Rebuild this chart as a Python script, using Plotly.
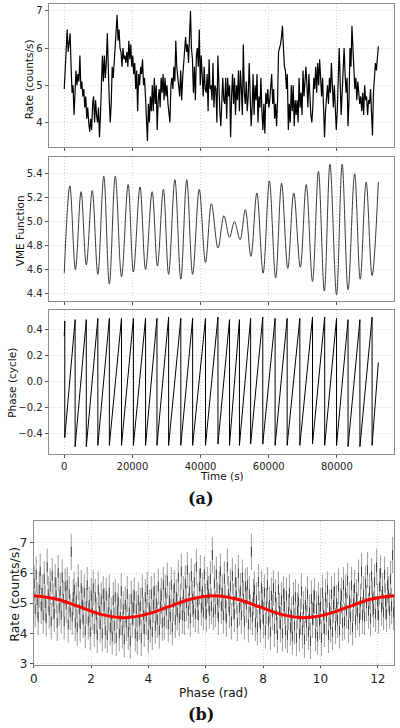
import numpy as np
import plotly.graph_objects as go

# ---------------- Data ----------------
# Panel (a) top: light curve rate (counts/s), evenly sampled over 0 .. 92160 s
lc_rate = [
 4.9, 5.5, 5.8, 6.5, 5.9, 6.3, 6.4, 5.5, 4.8, 5.0, 4.2, 4.8, 5.4, 5.0, 5.3, 5.1, 5.8, 4.9, 5.1, 4.7,
 4.9, 4.4, 4.7, 4.1, 4.4, 4.0, 3.75, 4.1, 3.8, 4.5, 4.7, 4.0, 4.6, 4.2, 4.0, 4.4, 3.6, 4.2, 5.0, 5.8,
 5.1, 5.8, 5.2, 5.6, 6.4, 5.0, 4.6, 4.0, 4.5, 5.5, 5.2, 5.6, 6.0, 6.3, 6.9, 6.2, 6.5, 6.0, 5.9, 5.5,
 6.0, 5.7, 5.8, 5.6, 5.9, 5.5, 6.2, 5.7, 6.1, 5.5, 5.8, 5.3, 5.6, 4.9, 5.4, 4.3, 5.3, 5.0, 5.5, 5.3,
 5.7, 5.0, 5.2, 4.7, 3.9, 3.5, 4.5, 4.0, 4.7, 4.3, 5.0, 4.3, 5.2, 4.5, 5.0, 3.8, 4.6, 4.9, 4.4, 5.2,
 4.8, 5.3, 4.6, 5.2, 4.7, 5.0, 4.5, 4.3, 4.0, 5.0, 5.2, 4.9, 5.5, 5.1, 6.2, 5.5, 5.2, 5.0, 4.7, 5.4,
 4.6, 5.2, 5.5, 5.8, 6.3, 5.9, 6.1, 5.6, 6.3, 7.0, 6.0, 5.7, 4.8, 5.5, 4.6, 5.8, 6.0, 5.5, 6.5, 5.0,
 5.8, 5.2, 4.7, 5.5, 4.9, 4.8, 5.3, 4.3, 5.7, 4.9, 5.0, 4.6, 5.6, 4.4, 5.0, 4.9, 4.0, 5.8, 4.8, 4.3,
 3.9, 4.9, 5.2, 4.6, 4.5, 5.2, 4.1, 5.2, 4.7, 5.0, 3.6, 4.7, 5.3, 4.5, 5.2, 4.2, 5.0, 4.6, 5.4, 4.3,
 5.4, 4.9, 4.2, 6.1, 4.8, 4.5, 5.1, 4.3, 4.7, 5.6, 4.9, 3.9, 4.4, 5.3, 4.2, 5.0, 4.6, 5.3, 4.0, 4.7,
 4.4, 5.2, 4.3, 3.8, 4.5, 3.7, 4.8, 4.5, 4.9, 4.4, 4.6, 5.0, 5.3, 4.5, 4.9, 4.1, 4.5, 3.9, 4.6, 5.9,
 6.0, 6.1, 6.3, 6.6, 6.0, 5.5, 5.4, 4.9, 5.3, 3.8, 4.5, 4.0, 5.0, 4.3, 5.0, 3.9, 4.6, 4.2, 4.6, 4.0,
 5.2, 4.4, 4.8, 4.2, 5.4, 4.7, 5.1, 5.5, 5.0, 4.4, 5.3, 4.7, 4.2, 4.0, 4.4, 5.2, 4.9, 5.5, 4.8, 5.6,
 5.0, 5.7, 5.1, 4.7, 5.2, 4.3, 3.6, 4.3, 4.6, 5.0, 4.5, 5.2, 4.8, 5.6, 5.0, 4.4, 5.0, 4.3, 3.8, 4.3,
 5.0, 6.0, 5.1, 4.2, 4.8, 5.5, 6.0, 5.3, 4.8, 5.2, 3.9, 4.6, 6.0, 5.5, 6.6, 6.0, 5.4, 4.9, 5.2, 4.6,
 5.1, 4.8, 4.5, 4.7, 4.3, 4.8, 4.2, 5.0, 4.6, 4.7, 4.2, 4.6, 4.5, 4.9, 4.0, 3.65, 4.8, 5.1, 5.6, 5.4,
 5.8, 6.05,
]
lc_t_end = 92160.0  # s

# Panel (a) middle: VME function extrema (time in s, value)
vme_t = [0, 1640, 3280, 4930, 6470, 8210, 9850, 11590, 13230, 14970, 16810, 18740, 20290, 22220,
         23860, 25790, 27340, 29080, 30620, 32460, 34200, 35940, 37670, 39610, 41440, 43180, 45110,
         46850, 48490, 49940, 51580, 53130, 54770, 56510, 58350, 60180, 62020, 63760, 65590, 67330,
         69260, 71000, 72840, 74580, 76310, 77960, 79890, 81530, 83270, 85200, 86840, 88580, 90320, 92160]
vme_v = [4.57, 5.30, 4.60, 5.25, 4.64, 5.26, 4.56, 5.38, 4.48, 5.38, 4.54, 5.31, 4.58, 5.29,
         4.60, 5.25, 4.63, 5.27, 4.56, 5.35, 4.52, 5.35, 4.56, 5.27, 4.66, 5.15, 4.78,
         5.05, 4.87, 5.00, 4.85, 5.10, 4.71, 5.24, 4.57, 5.34, 4.53, 5.32, 4.61, 5.24,
         4.62, 5.31, 4.50, 5.42, 4.42, 5.48, 4.39, 5.48, 4.43, 5.40, 4.52, 5.33, 4.55, 5.33]

# Panel (a) bottom: phase (cycle) sawtooth -- wrap times, value just before and just after each wrap
ph_start = (0, 0.35)
wrap_t = [150, 3190, 6470, 9850, 13230, 16800, 20290, 23860, 27200, 30620, 34200, 37670, 41440,
          45100, 48490, 51400, 54680, 58250, 61870, 65400, 69120, 72840, 76410, 79890, 83270,
          86750, 90320]
wrap_top = [0.47, 0.48, 0.48, 0.49, 0.49, 0.49, 0.49, 0.49, 0.49, 0.50, 0.49, 0.49, 0.49,
            0.50, 0.48, 0.48, 0.49, 0.50, 0.49, 0.49, 0.49, 0.50, 0.50, 0.49, 0.48, 0.48, 0.50]
wrap_bot = [-0.43, -0.50, -0.50, -0.49, -0.49, -0.49, -0.49, -0.49, -0.49, -0.49, -0.49, -0.49, -0.49,
            -0.48, -0.49, -0.49, -0.48, -0.48, -0.49, -0.49, -0.49, -0.48, -0.49, -0.49, -0.50, -0.50, -0.49]
ph_end = (92160, 0.15)

# Panel (b): folded rate over one cycle (duplicated for the second cycle)
fold_rate = [
 5.65, 4.80, 5.95, 5.10, 4.55, 5.45, 6.05, 4.90, 5.35, 4.60,
 5.80, 5.00, 4.50, 6.20, 5.30, 4.75, 5.55, 4.40, 5.90, 5.05,
 4.65, 5.70, 5.25, 4.35, 6.00, 4.85, 5.40, 4.60, 5.85, 5.15,
 4.40, 5.55, 4.95, 5.60, 4.30, 5.30, 4.70, 6.70, 4.55, 5.20,
 5.45, 4.35, 5.10, 4.20, 5.70, 4.80, 4.30, 5.50, 4.95, 4.45,
 5.35, 4.10, 4.90, 5.60, 4.40, 4.95, 4.05, 5.25, 4.70, 5.50,
 4.15, 5.20, 4.60, 3.95, 5.45, 4.75, 4.30, 5.10, 4.00, 5.30,
 4.90, 4.10, 5.25, 3.95, 4.70, 5.35, 4.20, 4.60, 3.90, 5.10,
 4.25, 5.20, 3.85, 4.75, 5.05, 4.00, 4.55, 5.40, 4.10, 4.80,
 3.80, 4.95, 4.35, 5.30, 4.05, 4.70, 3.75, 5.15, 4.45, 4.85,
 5.25, 4.00, 4.80, 3.90, 5.10, 4.40, 4.90, 3.85, 5.35, 4.60,
 4.15, 5.20, 4.55, 5.45, 3.95, 4.85, 4.30, 5.30, 4.05, 4.95,
 5.40, 4.25, 5.00, 4.45, 5.55, 4.10, 4.90, 5.25, 4.35, 5.60,
 4.40, 5.35, 4.75, 5.75, 4.30, 5.10, 4.55, 5.60, 4.20, 5.00,
 5.50, 4.45, 5.20, 4.70, 5.85, 4.50, 5.05, 6.05, 4.60, 5.30,
 4.55, 5.65, 5.00, 6.10, 4.75, 5.40, 4.50, 5.90, 5.15, 4.80,
 5.70, 4.65, 6.20, 5.05, 4.60, 5.55, 6.00, 4.85, 5.40, 4.70,
 5.95, 5.05, 4.65, 5.60, 5.30, 4.75, 5.80, 4.90, 6.60, 4.70,
]
fold_err = 0.6
# Red model curve, sampled every pi/4 over two cycles
model_v = [5.25, 5.14, 4.885, 4.63, 4.52, 4.63, 4.885, 5.14, 5.25,
           5.14, 4.885, 4.63, 4.52, 4.63, 4.885, 5.14, 5.25]

# ---------------- Derived arrays ----------------
lc_t = np.linspace(0, lc_t_end, len(lc_rate))

ph_x = [ph_start[0]]
ph_y = [ph_start[1]]
for t, a, b in zip(wrap_t, wrap_top, wrap_bot):
    ph_x += [t, t]
    ph_y += [a, b]
ph_x.append(ph_end[0])
ph_y.append(ph_end[1])

n = len(fold_rate)
cyc = (np.arange(n) + 0.5) * 2 * np.pi / n
fold_x = np.concatenate([cyc, cyc + 2 * np.pi])
fold_y = np.array(fold_rate + fold_rate)
model_x = np.arange(len(model_v)) * np.pi / 4

# ---------------- Figure ----------------
W, H = 400, 728
FONT = "DejaVu Sans"
fig = go.Figure()

def px_x(p):
    return p / W

def px_y(p):
    return 1 - p / H

fig.add_trace(go.Scatter(x=lc_t, y=lc_rate, mode="lines", line=dict(color="black", width=1.2),
                         xaxis="x", yaxis="y", showlegend=False))
fig.add_trace(go.Scatter(x=vme_t, y=vme_v, mode="lines",
                         line=dict(color="#3a3a3a", width=1, shape="spline", smoothing=1.0),
                         xaxis="x2", yaxis="y2", showlegend=False))
fig.add_trace(go.Scatter(x=ph_x, y=ph_y, mode="lines", line=dict(color="black", width=1),
                         xaxis="x3", yaxis="y3", showlegend=False))
fig.add_trace(go.Scatter(x=fold_x, y=fold_y, mode="markers",
                         marker=dict(symbol="line-ns", size=7,
                                     line=dict(width=1, color="rgba(0,0,0,0.6)")),
                         error_y=dict(type="constant", value=fold_err, color="rgba(40,40,40,0.42)",
                                      thickness=1.1, width=0),
                         xaxis="x4", yaxis="y4", showlegend=False))
fig.add_trace(go.Scatter(x=model_x, y=model_v, mode="lines",
                         line=dict(color="red", width=3, shape="spline", smoothing=1.0),
                         xaxis="x4", yaxis="y4", showlegend=False))

axcommon = dict(showline=True, mirror=True, linecolor="#8c8c8c", linewidth=1,
                showgrid=True, gridcolor="#d4d4d4", griddash="1px,2px", gridwidth=1,
                ticks="outside", ticklen=3, tickcolor="#555555", zeroline=False,
                tickfont=dict(family=FONT, size=10, color="#222222"))

xa_dom = [px_x(45), px_x(394)]
t_range = [-4608, 96768]
tvals = [0, 20000, 40000, 60000, 80000]

big = {**axcommon, "tickfont": dict(family=FONT, size=12, color="#222222")}
bigx = {**big, "ticklen": 2}

fig.update_layout(
    width=W, height=H, margin=dict(l=0, r=0, t=0, b=0),
    paper_bgcolor="white", plot_bgcolor="white",
    xaxis=dict(domain=xa_dom, range=t_range, tickvals=tvals, showticklabels=False,
               anchor="y", **axcommon),
    yaxis=dict(domain=[px_y(148), px_y(4.3)], range=[3.34, 7.18], tickvals=[4, 5, 6, 7],
               anchor="x", **axcommon),
    xaxis2=dict(domain=xa_dom, range=t_range, tickvals=tvals, showticklabels=False,
                anchor="y2", **axcommon),
    yaxis2=dict(domain=[px_y(303.3), px_y(158.3)], range=[4.336, 5.538],
                tickvals=[4.4, 4.6, 4.8, 5.0, 5.2, 5.4], tickformat=".1f", anchor="x2", **axcommon),
    xaxis3=dict(domain=xa_dom, range=t_range, tickvals=tvals, tickformat="d",
                anchor="y3", **axcommon),
    yaxis3=dict(domain=[px_y(456.7), px_y(312.3)], range=[-0.553, 0.553],
                tickvals=[-0.4, -0.2, 0.0, 0.2, 0.4], tickformat=".1f", anchor="x3", **axcommon),
    xaxis4=dict(domain=[px_x(30), px_x(394)], range=[0, 4 * np.pi],
                tickvals=[0, 2, 4, 6, 8, 10, 12], anchor="y4", **bigx),
    yaxis4=dict(domain=[px_y(670), px_y(525)], range=[2.94, 7.71], tickvals=[3, 4, 5, 6, 7],
                anchor="x4", **big),
)

def label(text, x, y, size, angle=0, family=FONT, bold=False):
    fig.add_annotation(text=f"<b>{text}</b>" if bold else text, xref="paper", yref="paper",
                       x=px_x(x), y=px_y(y), showarrow=False, textangle=angle,
                       xanchor="center", yanchor="middle", borderpad=0,
                       font=dict(family=family, size=size, color="#111111"))

label("Rate (counts/s)", 26, 80, 10.5, -90)
label("VME Function", 17, 232, 10.5, -90)
label("Phase (cycle)", 8.5, 385, 10.5, -90)
label("Time (s)", 220, 479, 10.5)
label("(a)", 199, 502, 16, family="DejaVu Serif", bold=True)
label("Rate (counts/s)", 11, 598, 12.5, -90)
label("Phase (rad)", 212, 698, 12)
label("(b)", 199, 719.5, 16, family="DejaVu Serif", bold=True)

fig.write_html("out.html")
